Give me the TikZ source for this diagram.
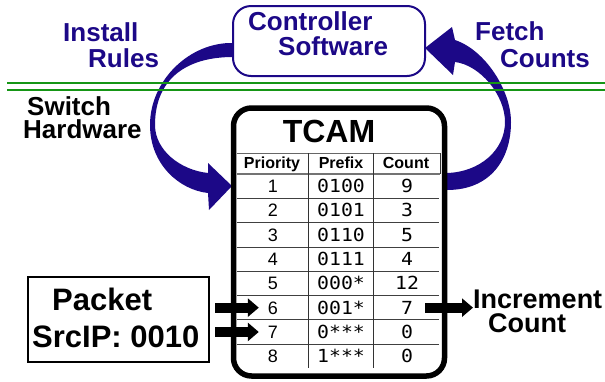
\documentclass[tikz,border=0pt]{standalone}
\usepackage{fontspec}
\setmainfont{Liberation Sans}
\newfontfamily\monof[FakeStretch=1.1]{DejaVu Sans Mono}
\usetikzlibrary{arrows.meta}
\definecolor{ctlblue}{RGB}{28,8,135}
\definecolor{divgreen}{RGB}{22,150,22}
\begin{document}
\begin{tikzpicture}[x=1pt,y=-1pt,
  bluetxt/.style={text=ctlblue,font=\fontsize{26}{28}\selectfont\bfseries,inner sep=0pt,anchor=base west,text height=18pt,text depth=0pt},
  blktxt/.style={text=black,font=\fontsize{26}{28}\selectfont\bfseries,inner sep=0pt,anchor=base west,text height=18pt,text depth=0pt},
  pkttxt/.style={text=black,font=\fontsize{31}{33}\selectfont\bfseries,inner sep=0pt,anchor=base west,text height=22pt,text depth=0pt},
  inctxt/.style={text=black,font=\fontsize{27}{29}\selectfont\bfseries,inner sep=0pt,anchor=base west,text height=19pt,text depth=0pt},
  hdr/.style={font=\fontsize{16}{18}\selectfont\bfseries,inner sep=0pt,anchor=base},
  sanscell/.style={font=\fontsize{18}{20}\selectfont,inner sep=0pt,text height=13pt,text depth=0pt},
  monocell/.style={font=\fontsize{18}{20}\selectfont\monof,inner sep=0pt,text height=13pt,text depth=0pt},
  rowline/.style={line width=0.7pt,draw=black!75},
  colline/.style={line width=0.8pt,draw=black!80},
  greenline/.style={line width=2.5pt,draw=divgreen},
  blockarrow/.style={line width=10pt,draw=black,-{Triangle[length=11pt,width=18pt]}},
  flowarrow/.style={fill=ctlblue,draw=none}]
\useasboundingbox (0,0) rectangle (605,381);

% curved flow arrows (drawn first)
\fill[flowarrow] (240,43) -- (233,43) .. controls (190,42) and (150,80) .. (150,125)
  .. controls (150,165) and (180,190) .. (208,193)
  -- (209,210) -- (232,186) -- (208,163) -- (208,173)
  .. controls (180,170) and (155,150) .. (155,125)
  .. controls (155,80) and (185,57) .. (233,57) -- (240,57) -- cycle;
\fill[flowarrow] (440,188) -- (447,190) .. controls (490,190) and (511,160) .. (511,122)
  .. controls (511,90) and (485,50) .. (455,40)
  -- (452,27) -- (425,48) -- (453,75) -- (455,62)
  .. controls (480,65) and (505,95) .. (505,122)
  .. controls (505,150) and (480,172) .. (447,173) -- (440,173) -- cycle;

% controller box
\node[draw=ctlblue,fill=white,line width=2pt,rounded corners=18pt,
      minimum width=192pt,minimum height=70pt,inner sep=0pt] (ctl) at (329,41) {};
\node[bluetxt] (ctl1) at (248,30) {Controller};
\node[bluetxt] (ctl2) at (278,55) {Software};

% labels
\node[bluetxt] (inst) at (63,41) {Install};
\node[bluetxt] (rules) at (88,67) {Rules};
\node[bluetxt] (fetch) at (475,40) {Fetch};
\node[bluetxt] (counts) at (500,67) {Counts};

% green divider
\coordinate (gl1) at (7,83);
\coordinate (gr1) at (605,83);
\coordinate (gl2) at (7,90);
\coordinate (gr2) at (605,90);
\draw[greenline] (gl1) -- (gr1);
\draw[greenline] (gl2) -- (gr2);

\node[blktxt] (sw1) at (27,115) {Switch};
\node[blktxt] (sw2) at (23,138) {Hardware};

% TCAM box
\node[draw=black,fill=white,line width=5.5pt,rounded corners=18pt,
      minimum width=211pt,minimum height=268pt,inner sep=0pt] (tcam) at (339,242) {};
\node[font=\fontsize{32}{34}\selectfont\bfseries,inner sep=0pt,anchor=base] (title) at (329,142) {TCAM};

% table grid
\draw[line width=0.7pt,draw=black!60] (237,153) -- (440,153);
\draw[line width=1.6pt,draw=black!55] (237,174) -- (440,174);
\foreach \k in {1,...,7}{
  \draw[rowline] (237,{174+24.3*\k}) -- (439,{174+24.3*\k});
}
\draw[colline] (308,153) -- (308,368);
\draw[colline] (373,153) -- (373,368);
\draw[colline] (440,153) -- (440,174);

\node[hdr] (hp) at (272,168) {Priority};
\node[hdr] (hf) at (341,168) {Prefix};
\node[hdr] (hc) at (406,168) {Count};

\foreach \pr/\pf/\ct [count=\i] in {1/0100/9,2/0101/3,3/0110/5,4/0111/4,5/000*/12,6/001*/7,7/0***/0,8/1***/0}{
  \pgfmathsetmacro\yy{174+24.3*(\i-0.5)}
  \node[sanscell] (p\i) at (273,\yy) {\pr};
  \node[monocell] (f\i) at (341,\yy) {\pf};
  \node[monocell] (c\i) at (407,\yy) {\ct};
}

% packet
\node[draw=black,line width=2pt,minimum width=181pt,minimum height=85pt,inner sep=0pt] (packet) at (118.5,319.5) {};
\node[pkttxt] (pk1) at (52,310) {Packet};
\node[pkttxt] (pk2) at (32,347) {SrcIP: 0010};

% increment
\node[inctxt] (inc1) at (473,308) {Increment};
\node[inctxt] (inc2) at (488,332) {Count};

% block arrows
\draw[blockarrow] ([xshift=5pt]packet.east |- p6) -- ([xshift=-9pt]p6.west);
\draw[blockarrow] ([xshift=5pt]packet.east |- p7) -- ([xshift=-9pt]p7.west);
\draw[blockarrow] ([xshift=12pt]c6.east) -- (inc1.west |- c6);
\end{tikzpicture}
\end{document}
